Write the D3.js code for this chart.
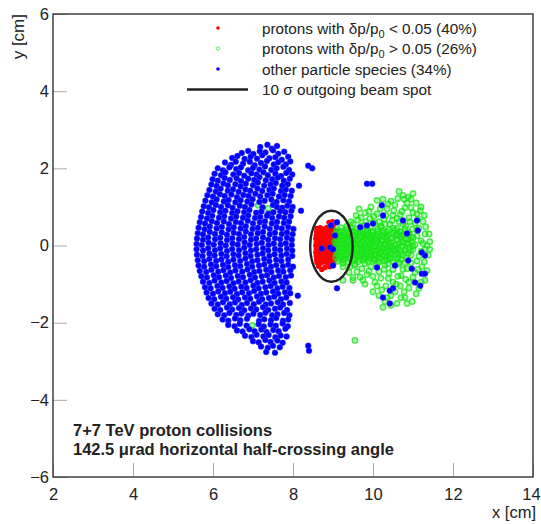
<!DOCTYPE html>
<html>
<head>
<meta charset="utf-8">
<script src="https://cdn.jsdelivr.net/npm/d3@7"></script>
<style>
  body { margin: 0; background: #fff; }
  svg text { font-family: "Liberation Sans", Arial, Helvetica, sans-serif; fill: #222; }
</style>
</head>
<body>
<svg id="chart" width="541" height="524"></svg>
<script>
// protons with dp/p0 < 0.05 (x, y in cm)
var redPoints = [
  [8.6,0.44],[8.68,0.46],[8.77,0.43],[8.85,0.47],[8.93,0.44],[9.0,0.46],[8.95,0.55],[8.99,0.62],[9.04,0.57],[8.9,0.6],
  [8.59,0.36],[8.67,0.34],[8.76,0.37],[8.84,0.35],[8.92,0.36],[9.01,0.34],[9.08,0.37],
  [8.58,0.27],[8.66,0.26],[8.75,0.28],[8.83,0.25],[8.91,0.27],[9.0,0.26],[9.09,0.28],
  [8.57,0.18],[8.65,0.17],[8.74,0.19],[8.82,0.16],[8.9,0.18],[8.98,0.17],[9.07,0.19],
  [8.58,0.09],[8.66,0.08],[8.75,0.1],[8.83,0.07],[8.91,0.09],[8.99,0.08],[9.08,0.1],
  [8.57,0.0],[8.65,-0.01],[8.74,0.01],[8.82,-0.02],[8.9,0.0],[8.98,-0.01],[9.07,0.01],
  [8.58,-0.09],[8.66,-0.1],[8.75,-0.08],[8.83,-0.11],[8.91,-0.09],[8.99,-0.1],[9.08,-0.08],
  [8.57,-0.18],[8.65,-0.19],[8.74,-0.17],[8.82,-0.2],[8.9,-0.18],[8.98,-0.19],[9.07,-0.17],
  [8.58,-0.27],[8.66,-0.28],[8.75,-0.26],[8.83,-0.29],[8.91,-0.27],[8.99,-0.28],[9.06,-0.26],
  [8.59,-0.36],[8.67,-0.37],[8.76,-0.35],[8.84,-0.38],[8.92,-0.36],[9.0,-0.37],[9.06,-0.35],
  [8.6,-0.44],[8.69,-0.46],[8.78,-0.43],[8.86,-0.45],[8.94,-0.44],[9.02,-0.46],
  [8.64,-0.54],[8.8,-0.57],[8.72,-0.62],[8.92,-0.55]
];

// protons with dp/p0 > 0.05
var greenPoints = [
  [9.1,0.4],[9.22,0.37],[9.35,0.42],[9.48,0.38],[9.6,0.43],[9.73,0.39],[9.86,0.41],[9.99,0.37],[10.12,0.42],[10.26,0.38],
  [9.06,0.29],[9.17,0.32],[9.29,0.28],[9.4,0.31],[9.52,0.27],[9.64,0.32],[9.76,0.29],[9.88,0.31],[10.0,0.27],[10.13,0.3],[10.26,0.32],[10.4,0.28],
  [9.08,0.19],[9.2,0.22],[9.31,0.18],[9.43,0.21],[9.55,0.17],[9.67,0.22],[9.79,0.19],[9.91,0.21],[10.03,0.17],[10.16,0.2],[10.3,0.22],[10.45,0.18],
  [9.05,0.09],[9.16,0.12],[9.27,0.08],[9.39,0.11],[9.51,0.07],[9.63,0.12],[9.75,0.09],[9.87,0.11],[9.99,0.07],[10.11,0.1],[10.24,0.12],[10.37,0.08],[10.5,0.11],
  [9.08,-0.01],[9.2,0.02],[9.31,-0.02],[9.43,0.01],[9.55,-0.03],[9.67,0.02],[9.79,-0.01],[9.91,0.01],[10.03,-0.03],[10.16,0.0],[10.29,0.02],[10.42,-0.02],[10.56,0.01],
  [9.06,-0.11],[9.17,-0.08],[9.29,-0.12],[9.4,-0.09],[9.52,-0.13],[9.64,-0.08],[9.76,-0.11],[9.88,-0.09],[10.0,-0.13],[10.13,-0.1],[10.26,-0.08],[10.39,-0.12],[10.52,-0.09],
  [9.09,-0.21],[9.21,-0.18],[9.32,-0.22],[9.44,-0.19],[9.56,-0.23],[9.68,-0.18],[9.8,-0.21],[9.92,-0.19],[10.04,-0.23],[10.17,-0.2],[10.31,-0.18],[10.45,-0.22],
  [9.07,-0.31],[9.19,-0.28],[9.3,-0.32],[9.42,-0.29],[9.54,-0.33],[9.66,-0.28],[9.78,-0.31],[9.9,-0.29],[10.02,-0.33],[10.15,-0.3],[10.29,-0.28],[10.42,-0.32],
  [9.12,-0.41],[9.25,-0.38],[9.38,-0.43],[9.5,-0.39],[9.63,-0.42],[9.75,-0.38],[9.88,-0.41],[10.01,-0.39],[10.14,-0.43],[10.28,-0.4],
  [9.14,0.35],[9.28,0.34],[9.42,0.36],[9.56,0.35],[9.7,0.34],[9.84,0.36],[9.98,0.33],[10.12,0.36],[10.34,0.35],[10.5,0.33],
  [9.12,0.24],[9.24,0.26],[9.36,0.25],[9.48,0.24],[9.6,0.26],[9.72,0.24],[9.84,0.26],[9.96,0.23],[10.08,0.25],[10.22,0.26],[10.36,0.24],[10.55,0.27],
  [9.12,0.15],[9.25,0.14],[9.37,0.16],[9.49,0.13],[9.61,0.15],[9.73,0.14],[9.85,0.16],[9.97,0.14],[10.09,0.16],[10.21,0.13],[10.35,0.15],[10.6,0.16],
  [9.1,0.05],[9.22,0.04],[9.33,0.06],[9.45,0.04],[9.57,0.05],[9.69,0.06],[9.81,0.04],[9.93,0.05],[10.05,0.06],[10.18,0.04],[10.31,0.05],[10.44,0.06],[10.65,0.04],
  [9.12,-0.05],[9.24,-0.06],[9.36,-0.04],[9.48,-0.05],[9.6,-0.06],[9.72,-0.04],[9.84,-0.05],[9.96,-0.06],[10.08,-0.04],[10.21,-0.05],[10.34,-0.06],[10.47,-0.04],[10.62,-0.05],
  [9.11,-0.15],[9.23,-0.16],[9.35,-0.14],[9.47,-0.15],[9.59,-0.16],[9.71,-0.14],[9.83,-0.15],[9.95,-0.16],[10.07,-0.14],[10.2,-0.15],[10.35,-0.16],[10.5,-0.14],
  [9.13,-0.25],[9.25,-0.26],[9.37,-0.24],[9.49,-0.25],[9.61,-0.26],[9.73,-0.24],[9.85,-0.25],[9.97,-0.26],[10.09,-0.24],[10.23,-0.25],[10.38,-0.26],[10.55,-0.24],
  [9.15,-0.35],[9.28,-0.36],[9.41,-0.34],[9.54,-0.35],[9.67,-0.36],[9.8,-0.34],[9.93,-0.35],[10.06,-0.36],[10.2,-0.34],[10.35,-0.36],
  [9.2,0.46],[9.45,0.47],[9.7,0.5],[9.95,0.48],[10.2,0.47],[9.25,-0.46],[9.55,-0.48],[9.8,-0.47],[10.1,-0.5],[10.38,-0.47],
  [10.55,0.4],[10.68,0.36],[10.8,0.42],[10.62,0.3],[10.75,0.28],[10.88,0.33],[10.7,0.2],[10.82,0.18],[10.95,0.22],
  [10.76,0.08],[10.88,0.05],[10.98,0.1],[10.72,-0.02],[10.9,-0.05],[11.0,-0.02],[10.68,-0.12],[10.8,-0.15],[10.93,-0.12],
  [10.62,-0.22],[10.75,-0.25],[10.88,-0.2],[10.58,-0.34],[10.7,-0.36],[10.83,-0.32],[10.5,-0.42],[10.65,-0.44],[10.8,-0.45],
  [9.35,0.5],[9.5,0.56],[9.62,0.66],[9.78,0.52],[9.92,0.7],[10.05,0.58],[10.1,0.82],[10.2,0.5],[10.28,0.68],[10.35,0.95],
  [10.42,0.55],[10.5,0.78],[10.55,1.05],[10.6,0.45],[10.65,0.62],[10.72,0.88],[10.78,1.2],[10.82,0.5],[10.9,0.72],[10.95,0.98],
  [11.0,1.35],[11.05,0.58],[11.1,0.82],[11.15,0.45],[11.2,1.0],[11.25,0.62],[11.3,0.3],[10.75,1.3],[10.45,1.15],[10.25,1.2],
  [10.1,1.17],[9.95,1.0],[9.8,0.85],[9.65,0.95],[10.85,1.1],[10.6,0.7],[10.4,0.4],[10.7,0.35],[11.0,0.2],[11.2,0.12],
  [11.35,0.0],[10.9,0.3],[10.6,0.25],[11.1,0.4],
  [9.45,0.62],[9.58,0.78],[9.7,0.72],[9.82,0.62],[9.9,0.88],[10.02,0.75],[10.15,0.62],[10.18,0.95],[10.32,0.78],[10.38,1.08],
  [10.48,0.65],[10.52,0.9],[10.62,1.22],[10.68,0.8],[10.75,0.55],[10.8,0.98],[10.88,1.25],[10.92,0.62],[11.0,0.85],[11.08,1.1],
  [11.12,0.68],[11.18,0.9],[11.28,0.78],[11.32,0.48],[11.4,0.3],[10.98,0.42],[10.5,0.45],[10.3,0.55],[10.65,1.4],[10.95,1.2],
  [9.25,-0.55],[9.4,-0.7],[9.5,-0.83],[9.68,-0.82],[9.55,-0.52],[9.72,-0.6],[9.85,-0.75],[9.95,-0.55],[10.05,-0.95],[10.15,-0.68],
  [10.22,-1.15],[10.3,-0.5],[10.38,-0.85],[10.45,-1.3],[10.5,-0.62],[10.58,-1.0],[10.65,-0.48],[10.7,-0.78],[10.78,-1.2],[10.85,-0.6],
  [10.9,-0.95],[10.98,-1.45],[11.05,-0.7],[11.1,-0.4],[11.15,-1.1],[11.22,-0.55],[11.3,-0.9],[11.38,-0.25],[10.25,-1.6],[10.35,-1.35],
  [10.6,-1.5],[10.8,-1.35],[10.0,-1.2],[9.8,-1.0],[10.42,-0.35],[10.7,-0.2],[10.95,-0.25],[11.2,-0.15],[10.55,-0.1],[10.85,0.05],
  [11.05,0.02],[11.42,0.1],[9.25,-0.9],[9.5,-0.9],
  [9.42,-0.55],[9.6,-0.68],[9.75,-0.9],[9.9,-0.66],[10.0,-0.8],[10.1,-1.05],[10.2,-0.85],[10.28,-0.62],[10.32,-1.05],[10.4,-0.72],
  [10.5,-0.95],[10.55,-1.2],[10.62,-0.8],[10.68,-1.05],[10.75,-0.62],[10.82,-0.88],[10.9,-1.1],[10.95,-0.45],[11.0,-0.82],[11.08,-1.25],
  [11.12,-0.62],[11.2,-0.95],[11.28,-0.42],[11.35,-0.65],[11.42,-0.1],[10.3,-1.45],[10.15,-1.3],[10.7,-1.35],[10.85,-1.5],[10.45,-1.55],
  [10.7,0.1],[10.8,-0.1],[10.9,0.15],[11.0,-0.1],[11.1,0.25],[11.25,0.05],[11.3,-0.1],[10.75,0.25],[11.15,-0.28],[10.62,-0.3],
  [9.55,-2.46],[7.13,1.04],[7.38,0.96],[6.98,-2.07]
];

// other particle species
var bluePoints = [
  [7.18,2.55],[7.36,2.61],[7.47,2.51],[7.6,2.58],
  [6.72,2.4],[6.88,2.45],[7.01,2.37],[7.17,2.44],[7.31,2.41],[7.5,2.47],[7.63,2.38],[7.78,2.43],
  [6.48,2.27],[6.61,2.32],[6.79,2.24],[6.94,2.3],[7.1,2.25],[7.23,2.34],[7.41,2.26],[7.56,2.29],[7.72,2.22],[7.88,2.3],
  [6.3,2.15],[6.45,2.09],[6.57,2.17],[6.75,2.12],[6.92,2.17],[7.04,2.08],[7.2,2.14],[7.35,2.19],[7.52,2.1],[7.63,2.16],[7.82,2.1],[7.93,2.18],
  [6.12,2.0],[6.25,1.95],[6.41,2.03],[6.58,1.98],[6.7,2.03],[6.88,1.95],[7.0,2.01],[7.16,1.97],[7.3,2.05],[7.46,1.96],[7.59,2.0],[7.76,2.04],[7.9,1.96],
  [6.04,1.86],[6.2,1.82],[6.31,1.9],[6.51,1.84],[6.65,1.88],[6.78,1.81],[6.96,1.87],[7.09,1.84],[7.26,1.9],[7.37,1.82],[7.56,1.86],[7.7,1.8],[7.83,1.88],[7.98,1.84],
  [5.99,1.72],[6.12,1.68],[6.29,1.75],[6.42,1.7],[6.59,1.74],[6.7,1.67],[6.88,1.73],[7.03,1.7],[7.16,1.77],[7.32,1.69],[7.48,1.72],[7.62,1.76],[7.77,1.68],[7.92,1.73],
  [5.96,1.58],[6.09,1.54],[6.26,1.61],[6.37,1.56],[6.56,1.59],[6.69,1.53],[6.82,1.6],[7.0,1.56],[7.12,1.63],[7.28,1.55],[7.44,1.58],[7.57,1.62],[7.73,1.55],[7.87,1.59],
  [5.91,1.44],[6.07,1.4],[6.19,1.47],[6.37,1.42],[6.5,1.46],[6.64,1.39],[6.81,1.45],[6.93,1.42],[7.11,1.48],[7.23,1.41],[7.41,1.44],[7.52,1.48],[7.7,1.41],[7.82,1.45],[7.97,1.42],
  [5.86,1.3],[6.0,1.27],[6.17,1.33],[6.29,1.28],[6.46,1.32],[6.6,1.25],[6.76,1.31],[6.89,1.28],[7.06,1.34],[7.18,1.27],[7.36,1.3],[7.49,1.34],[7.65,1.27],[7.79,1.31],[7.94,1.28],
  [5.81,1.16],[5.97,1.12],[6.09,1.19],[6.27,1.14],[6.39,1.18],[6.56,1.12],[6.69,1.17],[6.86,1.14],[6.99,1.2],[7.16,1.13],[7.29,1.16],[7.46,1.19],[7.59,1.13],[7.76,1.17],[7.9,1.14],
  [5.77,1.02],[5.9,0.99],[6.07,1.05],[6.2,1.0],[6.37,1.04],[6.49,0.98],[6.67,1.03],[6.8,1.0],[6.96,1.06],[7.24,0.99],[7.5,1.05],[7.6,1.0],[7.73,0.98],[7.86,1.03],[7.99,1.0],
  [5.73,0.88],[5.88,0.84],[6.01,0.92],[6.18,0.86],[6.31,0.9],[6.48,0.84],[6.61,0.89],[6.78,0.86],[6.91,0.92],[7.08,0.85],[7.21,0.88],[7.38,0.82],[7.51,0.86],[7.68,0.89],[7.81,0.86],[7.96,0.9],
  [5.7,0.74],[5.85,0.7],[5.98,0.77],[6.15,0.72],[6.28,0.76],[6.45,0.7],[6.58,0.75],[6.75,0.72],[6.88,0.78],[7.05,0.71],[7.18,0.74],[7.35,0.77],[7.48,0.71],[7.65,0.75],[7.78,0.72],[7.94,0.76],
  [5.67,0.6],[5.8,0.57],[5.97,0.63],[6.1,0.58],[6.27,0.62],[6.4,0.56],[6.57,0.61],[6.7,0.58],[6.87,0.64],[7.0,0.57],[7.17,0.6],[7.3,0.63],[7.47,0.57],[7.6,0.61],[7.77,0.58],[7.9,0.62],
  [5.64,0.46],[5.79,0.42],[5.92,0.49],[6.09,0.44],[6.22,0.48],[6.39,0.42],[6.52,0.47],[6.69,0.44],[6.82,0.5],[6.99,0.43],[7.12,0.46],[7.29,0.49],[7.42,0.43],[7.59,0.47],[7.72,0.44],[7.88,0.48],[8.01,0.43],
  [5.62,0.32],[5.75,0.29],[5.92,0.35],[6.05,0.3],[6.22,0.34],[6.35,0.28],[6.52,0.33],[6.65,0.3],[6.82,0.36],[6.95,0.29],[7.12,0.32],[7.25,0.35],[7.42,0.29],[7.55,0.33],[7.72,0.3],[7.85,0.34],[7.99,0.29],
  [5.6,0.18],[5.75,0.15],[5.88,0.21],[6.05,0.16],[6.18,0.2],[6.35,0.14],[6.48,0.19],[6.65,0.16],[6.78,0.22],[6.95,0.15],[7.08,0.18],[7.25,0.21],[7.38,0.15],[7.55,0.19],[7.68,0.16],[7.85,0.2],[7.97,0.15],
  [5.59,0.04],[5.72,0.01],[5.89,0.07],[6.02,0.02],[6.19,0.06],[6.32,0.0],[6.49,0.05],[6.62,0.02],[6.79,0.08],[6.92,0.01],[7.09,0.04],[7.22,0.07],[7.39,0.01],[7.52,0.05],[7.69,0.02],[7.82,0.06],[7.97,0.01],
  [5.59,-0.1],[5.75,-0.13],[5.88,-0.07],[6.05,-0.12],[6.18,-0.08],[6.35,-0.14],[6.48,-0.09],[6.65,-0.12],[6.78,-0.06],[6.95,-0.13],[7.08,-0.1],[7.25,-0.07],[7.38,-0.13],[7.55,-0.09],[7.68,-0.12],[7.85,-0.08],[7.98,-0.13],
  [5.6,-0.24],[5.74,-0.27],[5.91,-0.21],[6.04,-0.26],[6.21,-0.22],[6.34,-0.28],[6.51,-0.23],[6.64,-0.26],[6.81,-0.2],[6.94,-0.27],[7.11,-0.24],[7.24,-0.21],[7.41,-0.27],[7.54,-0.23],[7.71,-0.26],[7.84,-0.22],[7.98,-0.27],
  [5.62,-0.38],[5.78,-0.41],[5.91,-0.35],[6.08,-0.4],[6.21,-0.36],[6.38,-0.42],[6.51,-0.37],[6.68,-0.4],[6.81,-0.34],[6.98,-0.41],[7.11,-0.38],[7.28,-0.35],[7.41,-0.41],[7.58,-0.37],[7.71,-0.4],[7.88,-0.36],
  [5.64,-0.52],[5.78,-0.55],[5.95,-0.49],[6.08,-0.54],[6.25,-0.5],[6.38,-0.56],[6.55,-0.51],[6.68,-0.54],[6.85,-0.48],[6.98,-0.55],[7.15,-0.52],[7.28,-0.49],[7.45,-0.55],[7.58,-0.51],[7.75,-0.54],[7.88,-0.5],[8.0,-0.55],
  [5.67,-0.66],[5.83,-0.69],[5.96,-0.63],[6.13,-0.68],[6.26,-0.64],[6.43,-0.7],[6.56,-0.65],[6.73,-0.68],[6.86,-0.62],[7.03,-0.69],[7.16,-0.66],[7.33,-0.63],[7.46,-0.69],[7.63,-0.65],[7.76,-0.68],[7.93,-0.64],
  [5.71,-0.8],[5.85,-0.83],[6.02,-0.77],[6.15,-0.82],[6.32,-0.78],[6.45,-0.84],[6.62,-0.79],[6.75,-0.82],[6.92,-0.76],[7.05,-0.83],[7.22,-0.8],[7.35,-0.77],[7.52,-0.83],[7.65,-0.79],[7.82,-0.82],[7.95,-0.78],
  [5.75,-0.94],[5.91,-0.97],[6.04,-0.91],[6.21,-0.96],[6.34,-0.92],[6.51,-0.98],[6.64,-0.93],[6.81,-0.96],[6.94,-0.9],[7.11,-0.97],[7.24,-0.94],[7.41,-0.91],[7.54,-0.97],[7.71,-0.93],[7.84,-0.96],
  [5.8,-1.08],[5.94,-1.11],[6.11,-1.05],[6.24,-1.1],[6.41,-1.06],[6.54,-1.12],[6.71,-1.07],[6.84,-1.1],[7.01,-1.04],[7.14,-1.11],[7.31,-1.08],[7.44,-1.05],[7.61,-1.11],[7.74,-1.07],[7.91,-1.1],
  [5.84,-1.22],[6.0,-1.25],[6.13,-1.19],[6.3,-1.24],[6.43,-1.2],[6.6,-1.26],[6.73,-1.21],[6.9,-1.24],[7.03,-1.18],[7.2,-1.25],[7.33,-1.22],[7.5,-1.19],[7.63,-1.25],[7.8,-1.21],[7.93,-1.24],
  [5.89,-1.36],[6.03,-1.39],[6.2,-1.33],[6.33,-1.38],[6.5,-1.34],[6.63,-1.4],[6.8,-1.35],[6.93,-1.38],[7.1,-1.32],[7.23,-1.39],[7.4,-1.36],[7.53,-1.33],[7.7,-1.39],[7.83,-1.35],
  [5.96,-1.5],[6.12,-1.53],[6.25,-1.47],[6.42,-1.52],[6.55,-1.48],[6.72,-1.54],[6.85,-1.49],[7.02,-1.52],[7.15,-1.46],[7.32,-1.53],[7.45,-1.5],[7.62,-1.47],[7.75,-1.53],[7.92,-1.49],
  [6.04,-1.64],[6.18,-1.67],[6.35,-1.61],[6.48,-1.66],[6.65,-1.62],[6.78,-1.68],[6.95,-1.63],[7.08,-1.66],[7.25,-1.6],[7.38,-1.67],[7.55,-1.64],[7.68,-1.61],[7.85,-1.67],
  [6.12,-1.78],[6.28,-1.81],[6.41,-1.75],[6.58,-1.8],[6.71,-1.76],[6.88,-1.82],[7.01,-1.77],[7.18,-1.8],[7.31,-1.74],[7.48,-1.81],[7.61,-1.78],[7.78,-1.75],[7.91,-1.81],
  [6.24,-1.92],[6.38,-1.95],[6.55,-1.89],[6.68,-1.94],[6.85,-1.9],[7.15,-1.96],[7.28,-1.91],[7.45,-1.94],[7.58,-1.88],[7.75,-1.95],[7.88,-1.92],
  [6.38,-2.06],[6.54,-2.09],[6.67,-2.03],[6.84,-2.08],[7.14,-2.04],[7.27,-2.1],[7.44,-2.05],[7.57,-2.08],[7.74,-2.02],[7.87,-2.09],
  [6.6,-2.2],[6.74,-2.23],[6.91,-2.17],[7.04,-2.22],[7.21,-2.18],[7.34,-2.24],[7.51,-2.19],[7.64,-2.22],[7.81,-2.16],
  [6.8,-2.34],[6.96,-2.37],[7.09,-2.31],[7.26,-2.36],[7.39,-2.32],[7.56,-2.38],[7.69,-2.33],[7.84,-2.36],
  [7.0,-2.48],[7.14,-2.51],[7.31,-2.45],[7.44,-2.5],[7.61,-2.46],[7.74,-2.52],
  [7.2,-2.62],[7.37,-2.65],[7.5,-2.6],[7.67,-2.64],
  [7.33,-2.76],[7.55,-2.78],
  [8.38,2.07],[8.48,2.0],[8.38,-2.6],[8.4,-2.73],[8.15,1.55],[8.12,-1.3],[8.2,0.9],
  [9.05,0.26],[8.72,-0.08],[8.93,-0.05],[9.0,-0.1],[9.0,-0.52],[8.95,0.52],[9.1,0.6],[9.1,-1.11],
  [9.68,0.47],[9.85,0.52],[10.0,0.57],[10.22,1.04],[10.25,0.78],[9.85,1.6],[9.98,1.6],
  [10.75,0.65],[11.1,0.65],[11.12,0.39],[10.85,0.31],[11.3,-0.26],[11.22,-0.18],[10.88,-0.39],
  [10.97,-0.6],[11.22,-0.73],[11.3,-0.73],[11.05,-0.96],[11.18,-1.04],[10.55,-0.52],[10.1,-0.57],
  [10.5,-1.11],[10.42,-1.17],[10.25,-1.35],[10.42,-1.5]
];

var xTicks = [2, 4, 6, 8, 10, 12, 14];
var yTicks = [-6, -4, -2, 0, 2, 4, 6];

// 10 sigma outgoing beam spot: centre and half-axes (cm)
var beamSpot = { cx: 8.96, cy: -0.02, rx: 0.53, ry: 0.92 };

var legendItems = [
  { kind: "red", pre: "protons with \u03b4p/p", sub: "0", post: " < 0.05 (40%)" },
  { kind: "green", pre: "protons with \u03b4p/p", sub: "0", post: " > 0.05 (26%)" },
  { kind: "blue", pre: "other particle species (34%)" },
  { kind: "line", pre: "10 \u03c3 outgoing beam spot" }
];

var notes = ["7+7 TeV proton collisions", "142.5  \u03bcrad horizontal half-crossing angle"];

var App = {};

App.main = function() {
  App.svg = d3.select('#chart');
  App.left = 53; App.right = 533; App.top = 14; App.bottom = 477;

  App.x = d3.scaleLinear().domain([2, 14]).range([App.left, App.right]);
  App.y = d3.scaleLinear().domain([-6, 6]).range([App.bottom, App.top]);

  App.initAxes();
  App.initPoints();
  App.initFrame();
  App.initLegend();
  App.initNotes();
}

App.initAxes = function() {
  var svg = App.svg;
  var minorX = d3.range(2, 14.01, 0.5), minorY = d3.range(-6, 6.01, 0.5);

  var gx = svg.append('g').attr('transform', 'translate(0,' + App.bottom + ')');
  gx.call(d3.axisBottom(App.x).tickValues(minorX).tickSize(-7).tickFormat(''));
  gx.call(d3.axisBottom(App.x).tickValues(xTicks).tickSize(-14).tickPadding(11).tickFormat(d3.format('d')));
  // last label sits on the page edge, nudge it in
  gx.selectAll('.tick text').filter(function(d) { return d === 14; }).attr('dx', -2);

  var gy = svg.append('g').attr('transform', 'translate(' + App.left + ',0)');
  gy.call(d3.axisLeft(App.y).tickValues(minorY).tickSize(-7).tickFormat(''));
  gy.call(d3.axisLeft(App.y).tickValues(yTicks).tickSize(-14).tickPadding(4).tickFormat(d3.format('d')));

  svg.selectAll('.domain').remove();
  svg.selectAll('.tick line').attr('stroke', '#aaa').attr('stroke-width', 1);
  svg.selectAll('.tick text').attr('font-size', 16.5).attr('fill', '#222')
    .attr('font-family', '"Liberation Sans", Arial, sans-serif');

  svg.append('text').text('x [cm]')
    .attr('x', 536).attr('y', 518)
    .attr('text-anchor', 'end').attr('font-size', 16.5);

  svg.append('text').text('y [cm]')
    .attr('transform', 'translate(24,' + App.top + ') rotate(-90)')
    .attr('text-anchor', 'end').attr('font-size', 17);
}

App.initPoints = function() {
  var svg = App.svg, x = App.x, y = App.y;

  svg.append('g').selectAll('circle').data(redPoints)
    .enter().append('circle')
    .attr('cx', function(d) { return x(d[0]); })
    .attr('cy', function(d) { return y(d[1]); })
    .attr('r', 2.7)
    .attr('fill', '#ff0000');

  svg.append('g').selectAll('circle').data(greenPoints)
    .enter().append('circle')
    .attr('cx', function(d) { return x(d[0]); })
    .attr('cy', function(d) { return y(d[1]); })
    .attr('r', 2.7)
    .attr('fill', 'rgba(25,228,25,0.3)')
    .attr('stroke', 'rgba(25,228,25,0.75)')
    .attr('stroke-width', 1.5);

  svg.append('g').selectAll('circle').data(bluePoints)
    .enter().append('circle')
    .attr('cx', function(d) { return x(d[0]); })
    .attr('cy', function(d) { return y(d[1]); })
    .attr('r', 3.0)
    .attr('fill', '#0000ff')
    .attr('stroke', 'rgba(90,90,255,0.45)')
    .attr('stroke-width', 0.8);

  svg.append('ellipse')
    .attr('cx', x(beamSpot.cx)).attr('cy', y(beamSpot.cy))
    .attr('rx', x(beamSpot.cx + beamSpot.rx) - x(beamSpot.cx))
    .attr('ry', y(beamSpot.cy) - y(beamSpot.cy + beamSpot.ry))
    .attr('fill', 'none').attr('stroke', '#222').attr('stroke-width', 2.4);
}

App.initFrame = function() {
  App.svg.append('rect')
    .attr('x', App.left).attr('y', App.top)
    .attr('width', App.right - App.left).attr('height', App.bottom - App.top)
    .attr('fill', 'none').attr('stroke', '#333').attr('stroke-width', 1.4);
}

App.initLegend = function() {
  var g = App.svg.append('g');
  var rows = g.selectAll('g').data(legendItems)
    .enter().append('g')
    .attr('transform', function(d, i) { return 'translate(0,' + (28 + i * 20.5) + ')'; });

  rows.each(function(d) {
    var row = d3.select(this);
    if (d.kind === 'line') {
      row.append('line').attr('x1', 187).attr('x2', 248).attr('y1', 0).attr('y2', 0)
        .attr('stroke', '#222').attr('stroke-width', 2.6);
    } else if (d.kind === 'green') {
      row.append('circle').attr('cx', 218).attr('cy', 0).attr('r', 1.6)
        .attr('fill', 'none').attr('stroke', '#55ee55').attr('stroke-width', 1);
    } else {
      row.append('circle').attr('cx', 218).attr('cy', 0).attr('r', 1.8)
        .attr('fill', d.kind === 'red' ? '#ff0000' : '#0000ff');
    }
    var t = row.append('text').attr('x', 262).attr('y', 5.5).attr('font-size', 15.3).attr('fill', '#333');
    t.append('tspan').text(d.pre);
    if (d.sub) {
      t.append('tspan').text(d.sub).attr('dy', 4).attr('font-size', 11);
      t.append('tspan').text(d.post).attr('dy', -4);
    }
  });
}

App.initNotes = function() {
  App.svg.append('g').selectAll('text').data(notes)
    .enter().append('text')
    .text(function(d) { return d; })
    .attr('x', 73)
    .attr('y', function(d, i) { return 436 + i * 19; })
    .attr('font-size', 16.5)
    .attr('font-weight', 'bold')
    .attr('fill', '#222');
}

App.main();
</script>
</body>
</html>
